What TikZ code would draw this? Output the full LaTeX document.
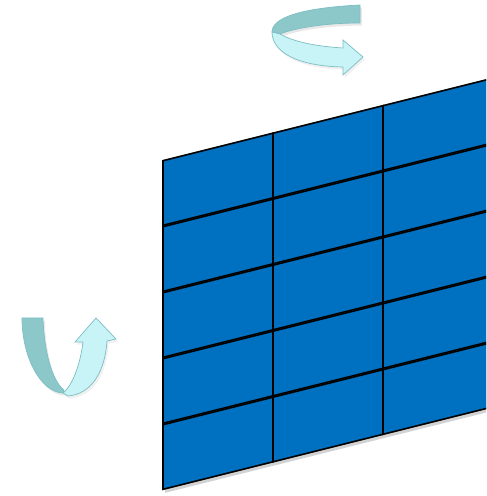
\documentclass[tikz,border=0pt]{standalone}
\usetikzlibrary{shadows}
\definecolor{panelblue}{RGB}{0,112,192}
\definecolor{seamgray}{RGB}{95,125,125}
\definecolor{arrowback}{RGB}{140,200,202}
\definecolor{arrowfront}{RGB}{200,243,247}
\definecolor{arrowedge}{RGB}{125,190,195}
\tikzset{
  cell/.style={fill=panelblue, draw=black, line width=0.9pt},
  backing/.style={fill=seamgray, drop shadow={opacity=0.35, shadow xshift=1.2pt, shadow yshift=-1.6pt}},
  ribbon back/.style={fill=arrowback, draw=arrowedge, line width=0.4pt,
    drop shadow={opacity=0.18, shadow xshift=1pt, shadow yshift=-1.5pt}},
  ribbon front/.style={fill=arrowfront, draw=arrowedge, line width=0.4pt,
    drop shadow={opacity=0.12, shadow xshift=1pt, shadow yshift=-1.5pt}},
}

\begin{document}
\begin{tikzpicture}[x=0.02cm, y=0.02cm]
  \useasboundingbox (0,0) rectangle (486,496);
  \clip (0,0) rectangle (486,496);

  % slanted panel of 3 x 5 cells
  \begin{scope}[shift={(163,6)}, yslant=0.25]
    \coordinate (panelSW) at (0,0);
    \coordinate (panelNE) at (330,330);
    \path[backing] (panelSW) rectangle (panelNE);
    \foreach \col in {0,1,2}
      \foreach \row in {0,...,4}
        \draw[cell] (\col*110, \row*66+0.7) rectangle ++(110, 64.6);
  \end{scope}

  % turn arrow, top
  \path[ribbon back] (360,491) .. controls (300,488) and (272,478) .. (272,464)
    -- (280,462) .. controls (295,468) and (325,473) .. (360,473) -- cycle;
  \path[ribbon front] (272,464) .. controls (272,445) and (295,430) .. (343,429)
    -- (343,421) -- (363,439) -- (343,456) -- (343,448)
    .. controls (310,450) and (290,456) .. (280,462) -- cycle;

  % turn arrow, left
  \path[ribbon back] (22,178) -- (43,178) .. controls (44,145) and (52,115) .. (64,106)
    -- (63,103) .. controls (40,104) and (22,140) .. (22,178) -- cycle;
  \path[ribbon front] (63,103) .. controls (72,110) and (80,130) .. (83,154)
    -- (75,154) -- (96,178) -- (116,157) -- (107,155)
    .. controls (105,125) and (92,102) .. (68,100) -- cycle;
\end{tikzpicture}
\end{document}
